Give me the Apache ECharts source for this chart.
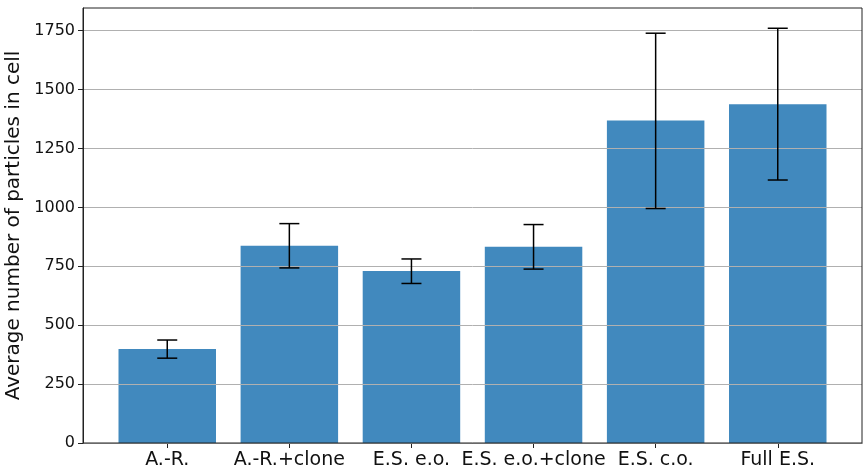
<!DOCTYPE html>
<html>
<head>
<meta charset="utf-8">
<script src="https://cdn.jsdelivr.net/npm/echarts@6/dist/echarts.min.js"></script>
<style>html,body{margin:0;padding:0;background:#fff}#c{width:866px;height:469px}</style>
</head>
<body>
<div id="c"></div>
<script>
const categories = ['A.-R.', 'A.-R.+clone', 'E.S. e.o.', 'E.S. e.o.+clone', 'E.S. c.o.', 'Full E.S.'];
const means = [399, 837, 730, 833, 1369, 1438];
const errLow = [360, 743, 677, 738, 995, 1116];
const errHigh = [437, 931, 781, 927, 1739, 1760];
const yTicks = [0, 250, 500, 750, 1000, 1250, 1500, 1750];

const FONT = 'DejaVu Sans';
const chart = echarts.init(document.getElementById('c'), null, {renderer: 'canvas'});
const idx = categories.map((_, i) => i);

chart.setOption({
  animation: false,
  backgroundColor: '#fff',
  grid: {left: 83, right: 4, top: 8, bottom: 26, outerBoundsMode: 'none', containLabel: false,
         show: true, borderColor: '#222', borderWidth: 1, backgroundColor: 'transparent', z: 4},
  xAxis: {
    type: 'value', min: -0.69, max: 5.69,
    splitLine: {show: false},
    axisLine: {show: true, onZero: false, lineStyle: {color: '#222', width: 1}},
    axisTick: {show: true, customValues: idx, length: 5, lineStyle: {color: '#222'}},
    axisLabel: {customValues: idx, formatter: v => categories[Math.round(v)], color: '#111', fontFamily: FONT, fontSize: 19, margin: 8}
  },
  yAxis: {
    type: 'value', min: 0, max: 1846, z: 3,
    axisLine: {show: true, onZero: false, lineStyle: {color: '#222', width: 1}},
    axisTick: {show: true, customValues: yTicks, length: 5, lineStyle: {color: '#222'}},
    axisLabel: {customValues: yTicks, formatter: v => String(v), color: '#111', fontFamily: FONT, fontSize: 16, margin: 8},
    splitLine: {show: true, lineStyle: {color: '#b0b0b0', width: 1}},
    name: 'Average number of particles in cell',
    nameLocation: 'middle', nameGap: 37,
    nameTextStyle: {color: '#111', fontFamily: FONT, fontSize: 20}
  },
  series: [
    {
      type: 'bar', barWidth: 97.5,
      itemStyle: {color: '#4189be'},
      data: means.map((v, i) => [i, v]),
      z: 2
    },
    {
      type: 'custom', z: 5,
      data: idx.map(i => [i, errLow[i], errHigh[i]]),
      renderItem: function (params, api) {
        const x = api.value(0);
        const lo = api.coord([x, api.value(1)]);
        const hi = api.coord([x, api.value(2)]);
        const cap = 10;
        const st = {stroke: '#000', lineWidth: 1.5};
        return {
          type: 'group',
          children: [
            {type: 'line', shape: {x1: lo[0], y1: lo[1], x2: hi[0], y2: hi[1]}, style: st},
            {type: 'line', shape: {x1: lo[0] - cap, y1: lo[1], x2: lo[0] + cap, y2: lo[1]}, style: st},
            {type: 'line', shape: {x1: hi[0] - cap, y1: hi[1], x2: hi[0] + cap, y2: hi[1]}, style: st}
          ]
        };
      }
    }
  ]
});
</script>
</body>
</html>
